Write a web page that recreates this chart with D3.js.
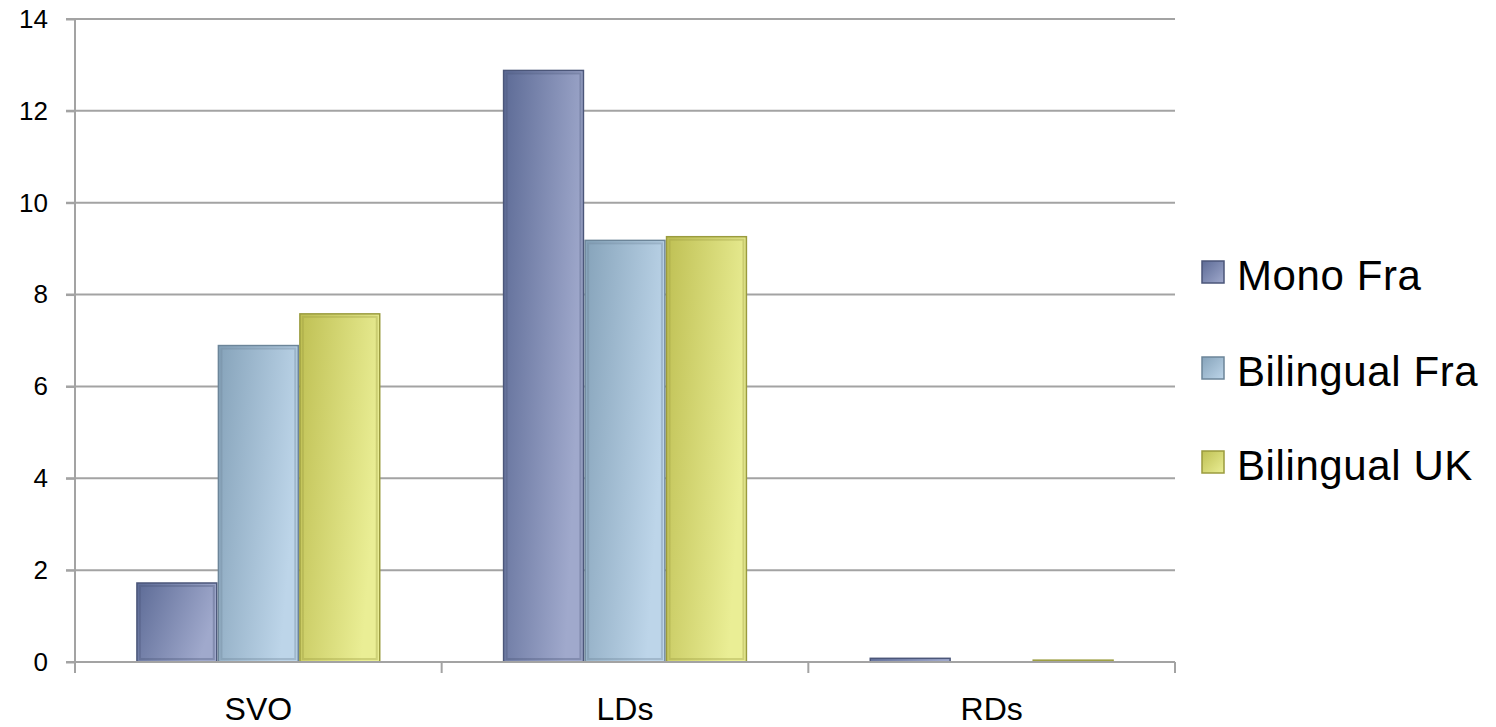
<!DOCTYPE html>
<html>
<head>
<meta charset="utf-8">
<script src="https://cdn.jsdelivr.net/npm/d3@7/dist/d3.min.js"></script>
<style>
  html, body { margin: 0; padding: 0; background: #fff; }
  svg { display: block; }
  text { font-family: "Liberation Sans", Arial, sans-serif; fill: #000; }
</style>
</head>
<body>
<svg id="chart" width="1496" height="727"></svg>
<script>
// Word-order counts per group
const categories = ["SVO", "LDs", "RDs"];
const seriesNames = ["Mono Fra", "Bilingual Fra", "Bilingual UK"];
const monoFra = [1.72, 12.88, 0.08];
const bilingualFra = [6.89, 9.18, 0];
const bilingualUK = [7.58, 9.26, 0.04];
const yTicks = [0, 2, 4, 6, 8, 10, 12, 14];

const seriesValues = [monoFra, bilingualFra, bilingualUK];
const palette = [
  { dark: "#5d6b96", light: "#a0a9cc", edge: "#4b5679" },
  { dark: "#86a3ba", light: "#bdd5e9", edge: "#6c8599" },
  { dark: "#bfc054", light: "#eaee95", edge: "#9a9b3e" }
];

const svg = d3.select("#chart");
const plot = { left: 75, right: 1175, top: 19, bottom: 662 };

const x = d3.scaleBand().domain(categories).range([plot.left, plot.right]).padding(0);
const xInner = d3.scaleBand().domain(seriesNames).range([0, x.bandwidth()])
  .paddingInner(0.02).paddingOuter(0.76);
const y = d3.scaleLinear().domain([0, 14]).range([plot.bottom, plot.top]);

// gradients for the bevelled bars
const defs = svg.append("defs");
palette.forEach((p, i) => {
  const g = defs.append("linearGradient").attr("id", "grad" + i)
    .attr("x1", "0%").attr("y1", "0%").attr("x2", "100%").attr("y2", "35%");
  g.append("stop").attr("offset", "0%").attr("stop-color", p.dark);
  g.append("stop").attr("offset", "100%").attr("stop-color", p.light);
  const lg = defs.append("linearGradient").attr("id", "lgrad" + i)
    .attr("x1", "0%").attr("y1", "0%").attr("x2", "100%").attr("y2", "100%");
  lg.append("stop").attr("offset", "0%").attr("stop-color", p.dark);
  lg.append("stop").attr("offset", "100%").attr("stop-color", p.light);
});

// horizontal gridlines
const yAxis = d3.axisLeft(y).tickValues(yTicks).tickSize(9).tickPadding(18).tickFormat(d3.format("d"));
svg.append("g").attr("class", "grid")
  .selectAll("line").data(yTicks).join("line")
  .attr("x1", plot.left - 9).attr("x2", plot.right)
  .attr("y1", d => y(d)).attr("y2", d => y(d))
  .attr("stroke", "#a3a3a3").attr("stroke-width", 2);

const gy = svg.append("g").attr("transform", `translate(${plot.left},0)`).call(yAxis);
gy.select(".domain").remove();
gy.selectAll(".tick line").attr("stroke", "#a3a3a3").attr("stroke-width", 2);
gy.selectAll(".tick text").attr("font-size", 26).attr("font-family", "Liberation Sans, Arial, sans-serif").attr("fill", "#000");

// bars
const groups = svg.append("g").selectAll("g").data(categories).join("g")
  .attr("transform", d => `translate(${x(d)},0)`);

groups.each(function (cat, ci) {
  const g = d3.select(this);
  seriesNames.forEach((s, si) => {
    const v = seriesValues[si][ci];
    if (v <= 0) return;
    const bx = xInner(s), bw = xInner.bandwidth();
    const by = y(v), bh = y(0) - y(v);
    g.append("rect")
      .attr("x", bx).attr("y", by).attr("width", bw).attr("height", bh)
      .attr("fill", `url(#grad${si})`)
      .attr("stroke", palette[si].edge).attr("stroke-width", 1.5);
    if (bh > 8) {
      g.append("rect")
        .attr("x", bx + 3).attr("y", by + 3).attr("width", bw - 6).attr("height", bh - 6)
        .attr("fill", "none")
        .attr("stroke", palette[si].edge).attr("stroke-opacity", 0.35).attr("stroke-width", 2);
    }
  });
});

// vertical axis line and category axis
svg.append("line")
  .attr("x1", plot.left).attr("x2", plot.left)
  .attr("y1", plot.top).attr("y2", plot.bottom + 11)
  .attr("stroke", "#a3a3a3").attr("stroke-width", 2);

const boundaries = categories.map(c => x(c)).concat([plot.right]);
svg.append("line")
  .attr("x1", plot.left).attr("x2", plot.right)
  .attr("y1", plot.bottom).attr("y2", plot.bottom)
  .attr("stroke", "#a3a3a3").attr("stroke-width", 2);
svg.append("g").selectAll("line").data(boundaries).join("line")
  .attr("x1", d => d).attr("x2", d => d)
  .attr("y1", plot.bottom).attr("y2", plot.bottom + 11)
  .attr("stroke", "#a3a3a3").attr("stroke-width", 2);

svg.append("g").selectAll("text").data(categories).join("text")
  .attr("x", d => x(d) + x.bandwidth() / 2)
  .attr("y", 720)
  .attr("text-anchor", "middle")
  .attr("font-size", 32)
  .text(d => d);

// legend
const legendY = [272, 368, 462];
const legend = svg.append("g").selectAll("g").data(seriesNames).join("g")
  .attr("transform", (d, i) => `translate(1202,${legendY[i]})`);
legend.append("rect")
  .attr("x", 0).attr("y", -11).attr("width", 22).attr("height", 22)
  .attr("fill", (d, i) => `url(#lgrad${i})`)
  .attr("stroke", (d, i) => palette[i].edge).attr("stroke-width", 1.5);
legend.append("text")
  .attr("x", 35).attr("y", 18)
  .attr("font-size", 42)
  .attr("letter-spacing", 0.6)
  .text(d => d);
</script>
</body>
</html>
